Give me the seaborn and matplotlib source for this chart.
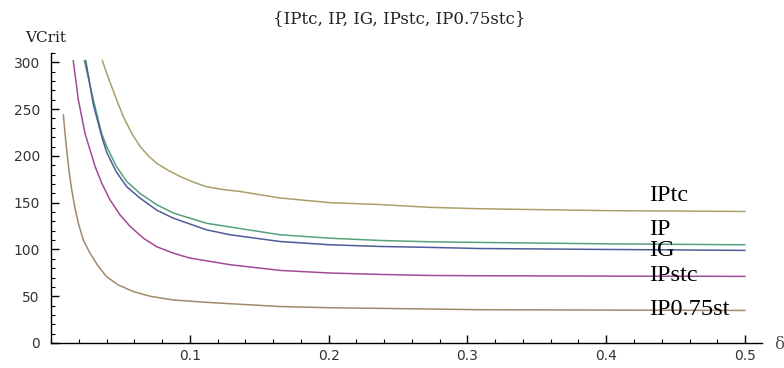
import matplotlib
matplotlib.use("Agg")
import matplotlib.pyplot as plt
import seaborn as sns
import pandas as pd
from matplotlib.ticker import MultipleLocator

# ---- data ----
x_iptc = [0.037, 0.0401, 0.0437, 0.0478, 0.0521, 0.0582, 0.0642, 0.0702, 0.0762, 0.0846, 0.093,
          0.1026, 0.112, 0.124, 0.136, 0.165, 0.201, 0.237, 0.273, 0.309, 0.4, 0.5]
v_iptc = [302, 288.5, 274, 258, 242, 224, 210, 200, 192, 184.4, 178,
          172, 167, 164, 162, 155, 150, 148, 145, 143.5, 141.5, 140.6]

x_ip = [0.024, 0.0305, 0.0365, 0.0401, 0.047, 0.0546, 0.064, 0.0762, 0.088, 0.112, 0.129,
        0.165, 0.201, 0.237, 0.273, 0.309, 0.4, 0.5]
v_ip = [302, 260, 224, 210, 189, 172.6, 160, 147.8, 139, 128, 124,
        115.7, 112, 109.6, 108.2, 107.5, 106, 105]

x_ig = [0.025, 0.0305, 0.0365, 0.0401, 0.047, 0.0546, 0.064, 0.0762, 0.088, 0.112, 0.129,
        0.165, 0.201, 0.237, 0.273, 0.309, 0.4, 0.5]
v_ig = [302, 255, 221, 204, 183, 167, 155, 142, 133.5, 121, 115.7,
        108.5, 105, 103.2, 102.2, 101, 100, 99]

x_ipstc = [0.016, 0.0197, 0.0221, 0.0245, 0.0281, 0.0317, 0.0365, 0.0425, 0.0497, 0.057, 0.0666,
           0.076, 0.0882, 0.100, 0.129, 0.165, 0.201, 0.237, 0.273, 0.309, 0.4, 0.5]
v_ipstc = [302, 260, 242, 224, 206.5, 189, 171, 153, 137, 124.6, 112,
           103, 96, 90.8, 83.7, 77.6, 74.8, 73.3, 72.2, 71.9, 71.5, 71.2]

x_ip075 = [0.0089, 0.0101, 0.0113, 0.0132, 0.0149, 0.0173, 0.0197, 0.0233, 0.0281, 0.0341, 0.040,
           0.0485, 0.0593, 0.0714, 0.088, 0.112, 0.129, 0.165, 0.201, 0.237, 0.273, 0.309, 0.4, 0.5]
v_ip075 = [244, 224, 206.5, 181.6, 164, 144, 128, 110, 96, 82, 71,
           62, 55, 50, 46, 43.5, 42, 39, 37.7, 37, 36.3, 35.6, 35.2, 34.8]

series_names = ["IPtc", "IP", "IG", "IPstc", "IP0.75stc"]
label_texts = ["IPtc", "IP", "IG", "IPstc", "IP0.75st"]
label_y = [152, 115.7, 92.5, 65.8, 30.2]
title_text = "{IPtc, IP, IG, IPstc, IP0.75stc}"
y_label = "VCrit"
x_label = "\u03b4"

colors = ["#ab9f68", "#58a07a", "#4d5c98", "#a04a98", "#a08a6c"]

xs = [x_iptc, x_ip, x_ig, x_ipstc, x_ip075]
vs = [v_iptc, v_ip, v_ig, v_ipstc, v_ip075]

sns.set_style("white")
plt.rcParams['font.family'] = ['DejaVu Sans']

fig = plt.figure(figsize=(7.84, 3.68), dpi=100)
ax = fig.add_axes([51/784, 25/368, (761.7-51)/784, (343-53)/368])

for name, x, v, c in zip(series_names, xs, vs, colors):
    df = pd.DataFrame({"x": x, "v": v})
    sns.lineplot(data=df, x="x", y="v", ax=ax, color=c, lw=1.1, sort=False)

ax.set_xlim(0, 0.512)
ax.set_ylim(0, 310)
ax.set_xlabel("")
ax.set_ylabel("")

for s in ["top", "right"]:
    ax.spines[s].set_visible(False)
for s in ["left", "bottom"]:
    ax.spines[s].set_color("black")
    ax.spines[s].set_linewidth(1.0)

ax.xaxis.set_major_locator(MultipleLocator(0.1))
ax.xaxis.set_minor_locator(MultipleLocator(0.02))
ax.yaxis.set_major_locator(MultipleLocator(50))
ax.yaxis.set_minor_locator(MultipleLocator(10))
ax.set_xticks([0.1, 0.2, 0.3, 0.4, 0.5])
ax.set_xticklabels(["0.1", "0.2", "0.3", "0.4", "0.5"])
ax.tick_params(axis="both", which="major", direction="in", length=6, width=1,
               color="black", labelsize=10, labelcolor="#333333")
ax.tick_params(axis="both", which="minor", direction="in", length=3, width=0.8, color="black")
ax.tick_params(axis="y", which="major", pad=8)
ax.tick_params(axis="x", which="major", pad=4)
ax.tick_params(axis="both", which="both", bottom=True, left=True)

serif = ["Liberation Serif", "DejaVu Serif"]
for t, yv, c in zip(label_texts, label_y, colors):
    ax.text(0.431, yv, t, fontsize=17.5, family=serif, color="black",
            ha="left", va="baseline")

fig.text(399/784, 1 - 23/368, title_text, fontsize=12, family=["DejaVu Serif"],
         ha="center", va="baseline", color="#222222")
fig.text(25/784, 1 - 42/368, y_label, fontsize=11, family=["DejaVu Serif"],
         ha="left", va="baseline", color="#222222")
fig.text(774/784, 1 - 349/368, x_label, fontsize=12, family=["DejaVu Serif"],
         ha="left", va="baseline", color="#555555")

fig.savefig("out.png", dpi=100, facecolor="white")
